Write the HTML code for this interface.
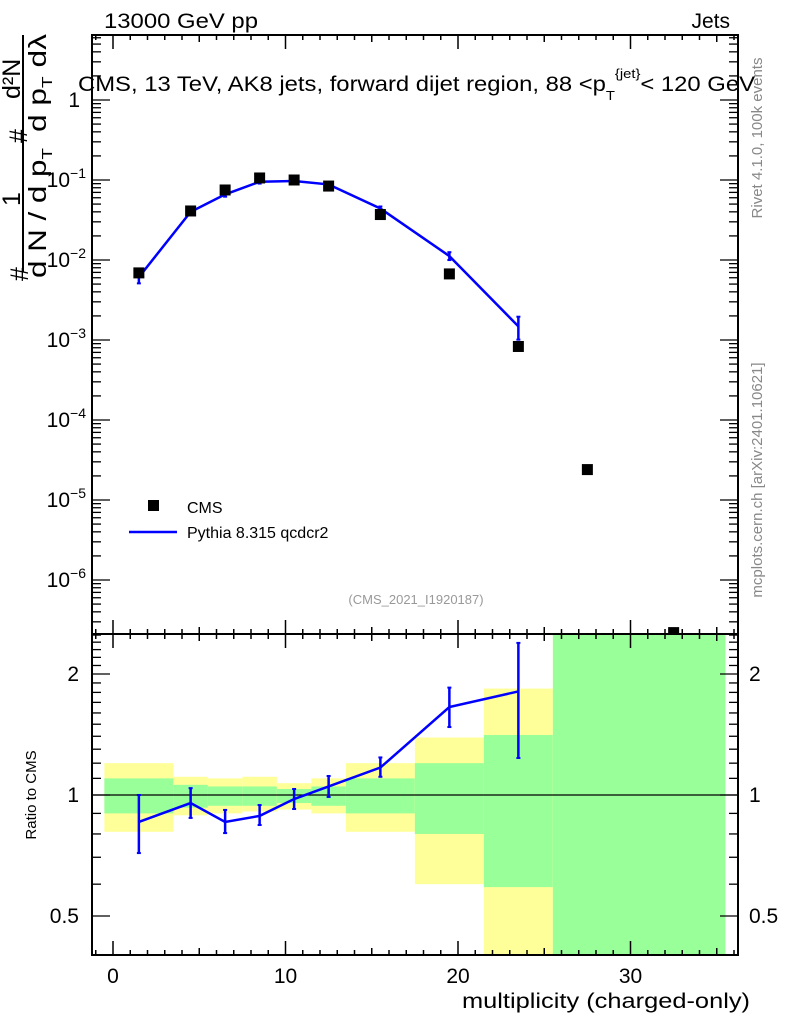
<!DOCTYPE html>
<html><head><meta charset="utf-8"><style>
html,body{margin:0;padding:0;background:#fff;}
svg{display:block;font-family:"Liberation Sans",sans-serif;}
</style></head><body>
<svg id="c" width="786" height="1024" viewBox="0 0 786 1024"></svg>
<script>
const xCenters=[1.5,4.5,6.5,8.5,10.5,12.5,15.5,19.5,23.5,27.5,32.5];
const cmsValues=[0.0069,0.041,0.075,0.106,0.1,0.084,0.037,0.0067,0.00083,2.4e-5,2.2e-7];
const mcX=[1.5,4.5,6.5,8.5,10.5,12.5,15.5,19.5,23.5];
const mcValues=[0.0061,0.040,0.066,0.095,0.097,0.088,0.044,0.0112,0.00148];
const mcRatio=[0.857,0.955,0.857,0.887,0.977,1.05,1.17,1.655,1.81];
const mcRatioLo=[0.717,0.877,0.804,0.842,0.923,0.989,1.11,1.476,1.236];
const mcRatioHi=[1.00,1.04,0.918,0.944,1.035,1.115,1.24,1.85,2.39];
const binEdges=[-0.5,3.5,5.5,7.5,9.5,11.5,13.5,17.5,21.5,25.5,35.5];
const yellowHi=[1.20,1.11,1.10,1.11,1.07,1.10,1.20,1.39,1.84,3];
const yellowLo=[0.81,0.89,0.90,0.91,0.92,0.90,0.81,0.60,0.30,0.3];
const greenHi=[1.10,1.06,1.05,1.05,1.035,1.05,1.10,1.20,1.41,3];
const greenLo=[0.90,0.93,0.94,0.94,0.955,0.94,0.90,0.80,0.59,0.3];
const xTicks=[0,10,20,30];
const yTickExp=[0,-1,-2,-3,-4,-5,-6];
const rTicks=[0.5,1,2];

const L=92,R=738,T=35,M=634,B=955;
const X=v=>113+17.25*v;
const Y=v=>100-80*Math.log10(v);
const RY=r=>795-121*Math.log2(r);
const svg=document.getElementById('c');
const NS='http://www.w3.org/2000/svg';
function mk(tag,attrs,parent){const e=document.createElementNS(NS,tag);for(const k in attrs)e.setAttribute(k,attrs[k]);(parent||svg).appendChild(e);return e;}
function txt(s,x,y,size,anchor,fill,parent){const t=mk('text',{x:x,y:y,'font-size':size,'text-anchor':anchor||'start',fill:fill||'#000'},parent);t.textContent=s;return t;}

const defs=mk('defs',{});
const c1=mk('clipPath',{id:'ct'},defs);mk('rect',{x:L,y:T,width:R-L,height:M-T},c1);
const c2=mk('clipPath',{id:'cb'},defs);mk('rect',{x:L,y:M,width:R-L,height:B-M},c2);

const gb=mk('g',{'clip-path':'url(#cb)'});


for(let i=0;i<yellowHi.length;i++){
  const x0=X(binEdges[i]),x1=X(binEdges[i+1]);
  const y=mk('rect',{x:x0,y:RY(yellowHi[i]),width:x1-x0,height:RY(yellowLo[i])-RY(yellowHi[i]),fill:'#ffff99'},gb);
  
  
  const g=mk('rect',{x:x0,y:RY(greenHi[i]),width:x1-x0,height:RY(greenLo[i])-RY(greenHi[i]),fill:'#99ff99'},gb);
  
  
}
mk('line',{x1:L,x2:R,y1:RY(1),y2:RY(1),stroke:'#000','stroke-width':1.2},gb);

const gr=mk('g',{'clip-path':'url(#cb)'});
let pts=mcX.map((x,i)=>X(x)+','+RY(mcRatio[i])).join(' ');
const rl=mk('polyline',{points:pts,fill:'none',stroke:'#0000ff','stroke-width':2.5},gr);


mcX.forEach((x,i)=>{
  const e=mk('line',{x1:X(x),x2:X(x),y1:RY(mcRatioLo[i]),y2:RY(mcRatioHi[i]),stroke:'#0000ff','stroke-width':2.5},gr);
  
  
  mk('line',{x1:X(x)-2,x2:X(x)+2,y1:RY(mcRatioLo[i]),y2:RY(mcRatioLo[i]),stroke:'#0000ff','stroke-width':2},gr);
  mk('line',{x1:X(x)-2,x2:X(x)+2,y1:RY(mcRatioHi[i]),y2:RY(mcRatioHi[i]),stroke:'#0000ff','stroke-width':2},gr);
});

const gt=mk('g',{'clip-path':'url(#ct)'});
pts=mcX.map((x,i)=>X(x)+','+Y(mcValues[i])).join(' ');
const tl=mk('polyline',{points:pts,fill:'none',stroke:'#0000ff','stroke-width':2.5},gt);


mcX.forEach((x,i)=>{
  const lo=mcValues[i]*mcRatioLo[i]/mcRatio[i],hi=mcValues[i]*mcRatioHi[i]/mcRatio[i];
  mk('line',{x1:X(x),x2:X(x),y1:Y(lo),y2:Y(hi),stroke:'#0000ff','stroke-width':2.5},gt);
  mk('line',{x1:X(x)-2,x2:X(x)+2,y1:Y(lo),y2:Y(lo),stroke:'#0000ff','stroke-width':2},gt);
  mk('line',{x1:X(x)-2,x2:X(x)+2,y1:Y(hi),y2:Y(hi),stroke:'#0000ff','stroke-width':2},gt);
});
xCenters.forEach((x,i)=>{
  const p=mk('rect',{x:X(x)-5.5,y:Y(cmsValues[i])-5.5,width:11,height:11,fill:'#000'},gt);
  
  
});

mk('rect',{x:L,y:T,width:R-L,height:M-T,fill:'none',stroke:'#000','stroke-width':2});
mk('rect',{x:L,y:M,width:R-L,height:B-M,fill:'none',stroke:'#000','stroke-width':2});

for(let v=-1;v<=36;v++){
  const x=X(v);if(x<L||x>R)continue;
  const big=v%10===0,mid=v%5===0;
  const len=big?14:(mid?7:5);
  [[T,1],[M,-1],[M,1],[B,-1]].forEach(([y0,d])=>mk('line',{x1:x,x2:x,y1:y0,y2:y0+d*len,stroke:'#000','stroke-width':1.5}));
}
xTicks.forEach(v=>{const t=txt(String(v),X(v),983,21,'middle');});

for(let e=-7;e<=1;e++){
  for(let m=1;m<10;m++){
    const v=m*Math.pow(10,e),y=Y(v);if(y<T||y>M)continue;
    const len=m===1?18:9;
    mk('line',{x1:L,x2:L+len,y1:y,y2:y,stroke:'#000','stroke-width':1.3});
    mk('line',{x1:R,x2:R-len,y1:y,y2:y,stroke:'#000','stroke-width':1.3});
  }
}
yTickExp.forEach(e=>{
  const y=Y(Math.pow(10,e));
  if(e===0){const t=txt('1',80,y+7,21,'end');}
  else{const t=mk('text',{x:86,y:y+7,'font-size':21,'text-anchor':'end'});t.innerHTML='10<tspan dy="-9" font-size="14">'+e.toString().replace('-','\u2212')+'</tspan>';}
});
for(let r=0.4;r<=2.55;r+=0.1){
  const y=RY(r);if(y<M||y>B)continue;
  const big=Math.abs(r-0.5)<1e-6||Math.abs(r-1)<1e-6||Math.abs(r-2)<1e-6;
  const len=big?18:9;
  mk('line',{x1:L,x2:L+len,y1:y,y2:y,stroke:'#000','stroke-width':1.3});
  mk('line',{x1:R,x2:R-len,y1:y,y2:y,stroke:'#000','stroke-width':1.3});
}
rTicks.forEach(r=>{
  const s=String(r);
  const a=txt(s,79,RY(r)+7,21,'end');
  const b=txt(s,749,RY(r)+7,21,'start');
});

let t;
t=txt('13000 GeV pp',104,28,21);t.setAttribute('textLength','154');t.setAttribute('lengthAdjust','spacingAndGlyphs');
t=txt('Jets',730,28,21,'end');
t=mk('text',{x:78,y:91,'font-size':21,textLength:677,lengthAdjust:'spacingAndGlyphs'});t.innerHTML='CMS, 13 TeV, AK8 jets, forward dijet region, 88 &lt;p<tspan dy="9" font-size="13">T</tspan><tspan dy="-22" font-size="13">{jet}</tspan><tspan dy="13">&lt; 120 GeV</tspan>';

t=txt('(CMS_2021_I1920187)',416,604,13,'middle','#999');
t=txt('multiplicity (charged-only)',750,1008,21,'end');t.setAttribute('textLength','288');t.setAttribute('lengthAdjust','spacingAndGlyphs');
t=txt('Ratio to CMS',0,0,15,'middle');t.setAttribute('transform','translate(36,795) rotate(-90)');
t=txt('Rivet 4.1.0,  100k events',0,0,15,'middle','#888');t.setAttribute('transform','translate(762,138) rotate(-90)');
t=txt('mcplots.cern.ch [arXiv:2401.10621]',0,0,15,'middle','#888');t.setAttribute('transform','translate(762,480) rotate(-90)');

const yt=mk('g',{});


t=mk('text',{'font-size':25,transform:'translate(28,281) rotate(-90)'},yt);t.textContent='#';
t=mk('text',{'font-size':25,transform:'translate(20,206) rotate(-90)'},yt);t.textContent='1';
t=mk('text',{'font-size':25,transform:'translate(27,143) rotate(-90)'},yt);t.textContent='#';
t=mk('text',{'font-size':25,transform:'translate(20,99) rotate(-90)'},yt);t.textContent='d²N';
mk('line',{x1:23,x2:23,y1:35,y2:272,stroke:'#000','stroke-width':2},yt);
t=mk('text',{'font-size':25,transform:'translate(46,278) rotate(-90)',textLength:130,lengthAdjust:'spacingAndGlyphs'},yt);t.innerHTML='d N / d p<tspan dy="6" font-size="15">T</tspan>';
t=mk('text',{'font-size':25,transform:'translate(46,132) rotate(-90)',textLength:98,lengthAdjust:'spacingAndGlyphs'},yt);t.innerHTML='d p<tspan dy="6" font-size="15">T</tspan><tspan dy="-6">  dλ</tspan>';

const lg=mk('g',{});


mk('rect',{x:148,y:500,width:11,height:11,fill:'#000'},lg);
t=txt('CMS',187,513,16,'start','#000',lg);
mk('line',{x1:129,x2:177,y1:532,y2:532,stroke:'#0000ff','stroke-width':2.5},lg);
t=txt('Pythia 8.315 qcdcr2',187,538,16,'start','#000',lg);
</script>
</body></html>
